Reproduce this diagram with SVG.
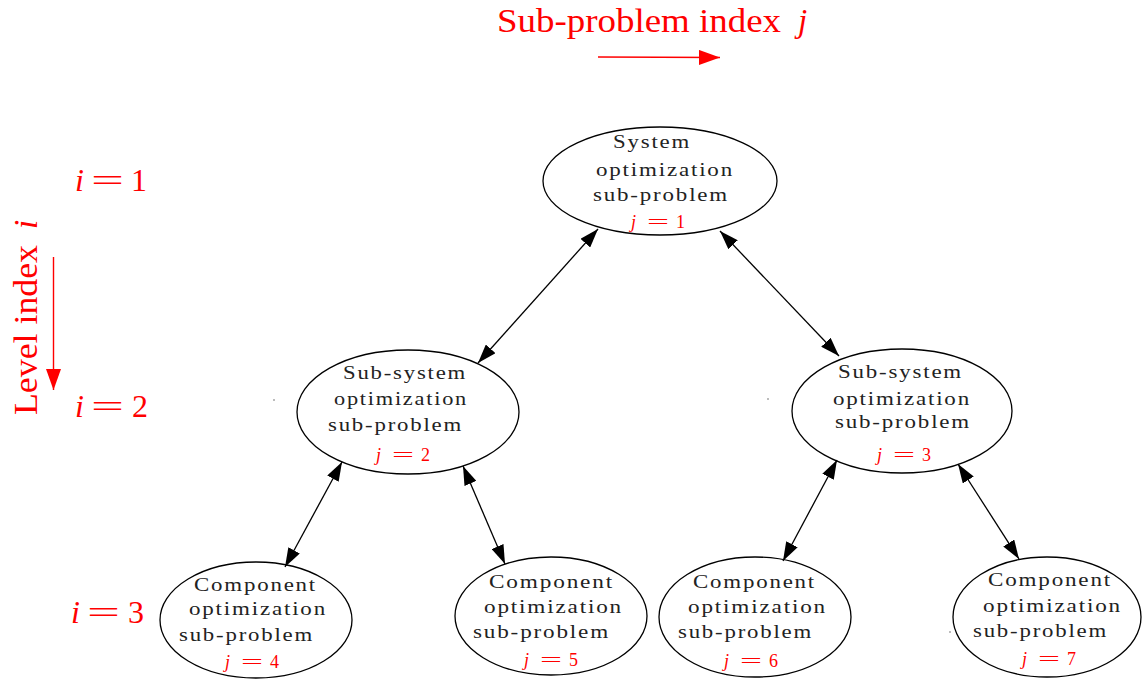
<svg xmlns="http://www.w3.org/2000/svg" width="1142" height="679" viewBox="0 0 1142 679">
<defs>
<style>
.bg{fill:#ffffff}
.node ellipse{fill:none;stroke:#000;stroke-width:1.3}
.t{font-family:"Liberation Serif","Times New Roman",serif;font-size:19px;letter-spacing:1.5px;fill:#222}
.jl text{font-family:"Liberation Serif","Times New Roman",serif;font-size:18px;fill:#ff0000}
.it{font-style:italic}
.red{font-family:"Liberation Serif","Times New Roman",serif;fill:#ff0000}
.big{font-size:33px}
.il{font-size:32px}
.conn line{stroke:#000;stroke-width:1.3}
.rarr{stroke:#ff0000;stroke-width:1.4}
.dot{fill:#666}
</style>
<marker id="ah" markerUnits="userSpaceOnUse" markerWidth="19" markerHeight="13" refX="19" refY="6.5" orient="auto-start-reverse" viewBox="0 0 19 13">
<path d="M0,0 L19,6.5 L0,13 z" fill="#000"/>
</marker>
<marker id="rah" markerUnits="userSpaceOnUse" markerWidth="21" markerHeight="15" refX="21" refY="7.5" orient="auto" viewBox="0 0 21 15">
<path d="M0,0 L21,7.5 L0,15 z" fill="#ff0000"/>
</marker>
</defs>
<rect class="bg" x="0" y="0" width="1142" height="679"/>

<g id="axes">
<text class="red big" x="497" y="32" textLength="284" lengthAdjust="spacingAndGlyphs">Sub-problem index</text>
<text class="red big it" x="798" y="32">j</text>
<line class="rarr" x1="598" y1="57" x2="720" y2="57.5" marker-end="url(#rah)"/>
<g transform="translate(37,415) rotate(-90)">
<text class="red big" x="0" y="0" textLength="170" lengthAdjust="spacingAndGlyphs">Level index</text>
<text class="red big it" x="186" y="0">i</text>
</g>
<line class="rarr" x1="53.5" y1="257" x2="53.5" y2="390" marker-end="url(#rah)"/>
<g id="lev1">
<text class="red il it" x="75" y="191">i</text>
<text class="red il" x="91" y="191" textLength="33" lengthAdjust="spacingAndGlyphs">=</text>
<text class="red il" x="131" y="191">1</text>
</g>
<g id="lev2">
<text class="red il it" x="75" y="417">i</text>
<text class="red il" x="91" y="417" textLength="33" lengthAdjust="spacingAndGlyphs">=</text>
<text class="red il" x="132" y="417">2</text>
</g>
<g id="lev3">
<text class="red il it" x="71" y="623">i</text>
<text class="red il" x="87" y="623" textLength="33" lengthAdjust="spacingAndGlyphs">=</text>
<text class="red il" x="128" y="623">3</text>
</g>
</g>

<g id="connectors" class="conn">
<line x1="598" y1="229" x2="478" y2="363" marker-start="url(#ah)" marker-end="url(#ah)"/>
<line x1="720" y1="231" x2="839" y2="356" marker-start="url(#ah)" marker-end="url(#ah)"/>
<line x1="342" y1="462" x2="285" y2="567" marker-start="url(#ah)" marker-end="url(#ah)"/>
<line x1="463" y1="466" x2="505" y2="564" marker-start="url(#ah)" marker-end="url(#ah)"/>
<line x1="837" y1="460" x2="783" y2="561" marker-start="url(#ah)" marker-end="url(#ah)"/>
<line x1="958" y1="464" x2="1019" y2="559" marker-start="url(#ah)" marker-end="url(#ah)"/>
</g>

<g id="n1" class="node">
<ellipse cx="660" cy="181" rx="117" ry="54"/>
<text class="t" x="613" y="148" textLength="78" lengthAdjust="spacingAndGlyphs">System</text>
<text class="t" x="596" y="176" textLength="138" lengthAdjust="spacingAndGlyphs">optimization</text>
<text class="t" x="593" y="201" textLength="136" lengthAdjust="spacingAndGlyphs">sub-problem</text>
<g class="jl"><text class="it" x="631" y="228">j</text><text x="647" y="228" textLength="22" lengthAdjust="spacingAndGlyphs">=</text><text x="676" y="228">1</text></g>
</g>

<g id="n2" class="node">
<ellipse cx="408" cy="412" rx="111" ry="62"/>
<text class="t" x="343" y="379" textLength="124" lengthAdjust="spacingAndGlyphs">Sub-system</text>
<text class="t" x="334" y="405" textLength="134" lengthAdjust="spacingAndGlyphs">optimization</text>
<text class="t" x="328" y="431" textLength="135" lengthAdjust="spacingAndGlyphs">sub-problem</text>
<g class="jl"><text class="it" x="376" y="461">j</text><text x="392" y="461" textLength="22" lengthAdjust="spacingAndGlyphs">=</text><text x="421" y="461">2</text></g>
</g>

<g id="n3" class="node">
<ellipse cx="902" cy="411" rx="110" ry="62"/>
<text class="t" x="838" y="378" textLength="125" lengthAdjust="spacingAndGlyphs">Sub-system</text>
<text class="t" x="833" y="405" textLength="138" lengthAdjust="spacingAndGlyphs">optimization</text>
<text class="t" x="835" y="428" textLength="136" lengthAdjust="spacingAndGlyphs">sub-problem</text>
<g class="jl"><text class="it" x="877" y="461">j</text><text x="893" y="461" textLength="22" lengthAdjust="spacingAndGlyphs">=</text><text x="922" y="461">3</text></g>
</g>

<g id="n4" class="node">
<ellipse cx="256" cy="620" rx="96" ry="58"/>
<text class="t" x="194" y="591" textLength="123" lengthAdjust="spacingAndGlyphs">Component</text>
<text class="t" x="189" y="615" textLength="138" lengthAdjust="spacingAndGlyphs">optimization</text>
<text class="t" x="179" y="641" textLength="135" lengthAdjust="spacingAndGlyphs">sub-problem</text>
<g class="jl"><text class="it" x="225" y="668">j</text><text x="241" y="668" textLength="22" lengthAdjust="spacingAndGlyphs">=</text><text x="270" y="668">4</text></g>
</g>

<g id="n5" class="node">
<ellipse cx="551" cy="616" rx="96" ry="59"/>
<text class="t" x="489" y="588" textLength="125" lengthAdjust="spacingAndGlyphs">Component</text>
<text class="t" x="484" y="613" textLength="139" lengthAdjust="spacingAndGlyphs">optimization</text>
<text class="t" x="473" y="638" textLength="137" lengthAdjust="spacingAndGlyphs">sub-problem</text>
<g class="jl"><text class="it" x="524" y="666">j</text><text x="540" y="666" textLength="22" lengthAdjust="spacingAndGlyphs">=</text><text x="569" y="666">5</text></g>
</g>

<g id="n6" class="node">
<ellipse cx="755" cy="617" rx="96" ry="60"/>
<text class="t" x="693" y="588" textLength="123" lengthAdjust="spacingAndGlyphs">Component</text>
<text class="t" x="688" y="613" textLength="139" lengthAdjust="spacingAndGlyphs">optimization</text>
<text class="t" x="678" y="638" textLength="135" lengthAdjust="spacingAndGlyphs">sub-problem</text>
<g class="jl"><text class="it" x="724" y="667">j</text><text x="740" y="667" textLength="22" lengthAdjust="spacingAndGlyphs">=</text><text x="769" y="667">6</text></g>
</g>

<g id="n7" class="node">
<ellipse cx="1047" cy="617" rx="94" ry="60"/>
<text class="t" x="988" y="586" textLength="124" lengthAdjust="spacingAndGlyphs">Component</text>
<text class="t" x="983" y="612" textLength="139" lengthAdjust="spacingAndGlyphs">optimization</text>
<text class="t" x="973" y="637" textLength="135" lengthAdjust="spacingAndGlyphs">sub-problem</text>
<g class="jl"><text class="it" x="1022" y="665">j</text><text x="1038" y="665" textLength="22" lengthAdjust="spacingAndGlyphs">=</text><text x="1067" y="665">7</text></g>
</g>

<g id="dots">
<circle class="dot" cx="274" cy="400" r="0.8"/>
<circle class="dot" cx="768" cy="399" r="0.8"/>
<circle class="dot" cx="950" cy="632" r="0.8"/>
</g>
</svg>
